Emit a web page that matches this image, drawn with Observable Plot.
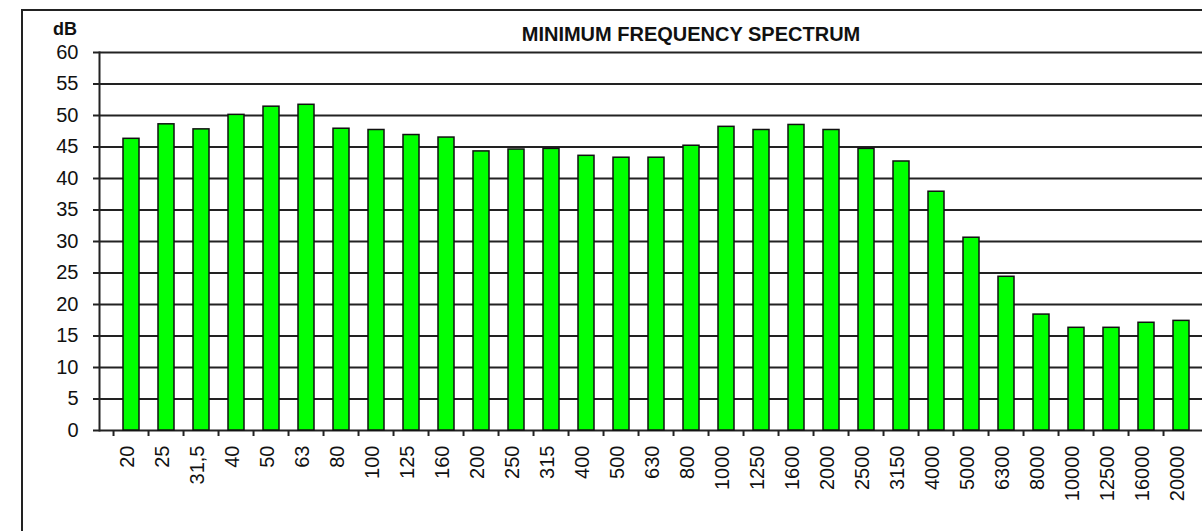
<!DOCTYPE html>
<html>
<head>
<meta charset="utf-8">
<script src="https://cdn.jsdelivr.net/npm/d3@7"></script>
<script src="https://cdn.jsdelivr.net/npm/@observablehq/plot@0.6"></script>
<style>
  html, body { margin: 0; padding: 0; background: #fff; }
  body { width: 1202px; height: 531px; position: relative; overflow: hidden; }
  #chart { position: absolute; left: 0; top: 0; }
  #frame { position: absolute; left: 21px; top: 9px; width: 2000px; height: 2000px; border: 2px solid #222; pointer-events: none; }
  #title { position: absolute; left: 691px; top: 24px; transform: translateX(-50%); white-space: nowrap;
           font: bold 20px "Liberation Sans", Arial, sans-serif; line-height: 1; color: #111; }
  #ylab { position: absolute; left: 53px; top: 20px; font: bold 18px "Liberation Sans", Arial, sans-serif; line-height: 1; color: #111; }
</style>
</head>
<body>
<div id="chart"></div>
<div id="frame"></div>
<div id="title">MINIMUM FREQUENCY SPECTRUM</div>
<div id="ylab">dB</div>
<script>
const frequencies = ["20","25","31,5","40","50","63","80","100","125","160","200","250","315","400","500","630","800","1000","1250","1600","2000","2500","3150","4000","5000","6300","8000","10000","12500","16000","20000"];
const levels = [46.3, 48.6, 47.8, 50.1, 51.4, 51.7, 47.9, 47.7, 46.9, 46.5, 44.3, 44.6, 44.7, 43.6, 43.3, 43.3, 45.2, 48.2, 47.7, 48.5, 47.7, 44.7, 42.7, 37.9, 30.6, 24.4, 18.4, 16.3, 16.3, 17.1, 17.4];
const yTicks = [0, 5, 10, 15, 20, 25, 30, 35, 40, 45, 50, 55, 60];

const data = frequencies.map((f, i) => ({f, v: levels[i]}));

const W = 1202, H = 531, ML = 99, MR = -11.5;
const step = (W - ML - MR) / frequencies.length;

const chart = Plot.plot({
  width: W, height: H,
  marginLeft: ML, marginRight: MR, marginTop: 52, marginBottom: 101,
  style: {fontFamily: "'Liberation Sans', Arial, sans-serif", fontSize: "20px", color: "#111", background: "transparent", overflow: "hidden"},
  x: {domain: frequencies, paddingInner: 0.53, paddingOuter: 0.265, align: 0.5},
  y: {domain: [0, 60]},
  marks: [
    Plot.gridY(yTicks, {stroke: "#222", strokeOpacity: 1, strokeWidth: 2}),
    Plot.barY(data, {x: "f", y: "v", fill: "#00ff00", stroke: "#111", strokeWidth: 1.5}),
    Plot.frame({anchor: "left", stroke: "#222", strokeWidth: 2}),
    Plot.axisY(yTicks, {tickSize: 6, tickPadding: 15, strokeWidth: 2, stroke: "#222", label: null}),
    Plot.axisX({tickSize: 6, tickFormat: () => "", dx: -step / 2, strokeWidth: 2, stroke: "#222", label: null}),
    Plot.axisX({tickSize: 0, tickPadding: 15, tickRotate: -90, dx: -4, label: null})
  ]
});
document.getElementById("chart").appendChild(chart);
</script>
</body>
</html>
